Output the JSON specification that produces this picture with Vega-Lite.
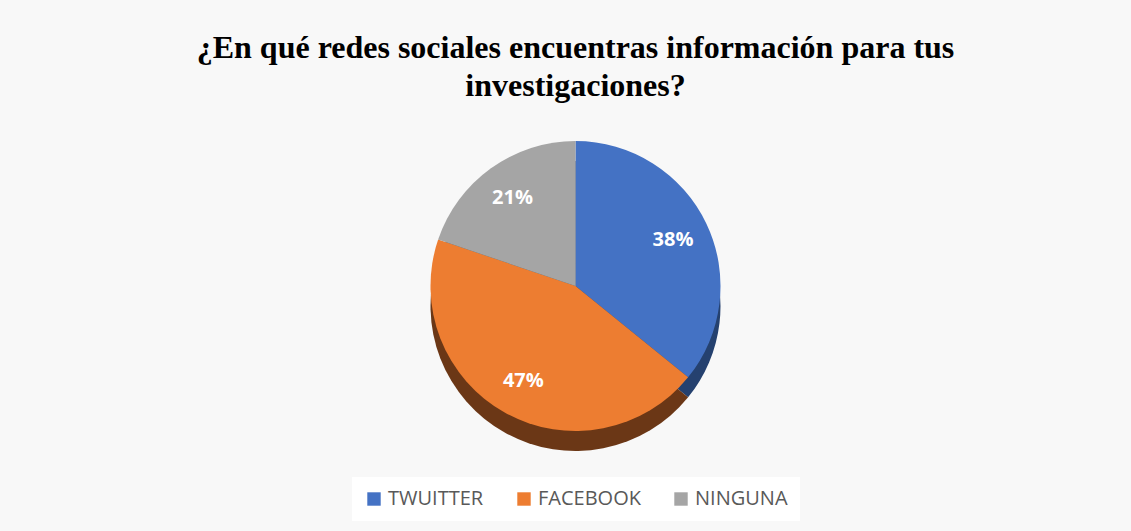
{
  "$schema": "https://vega.github.io/schema/vega-lite/v6.json",
  "width": 1131,
  "height": 531,
  "autosize": {"type": "fit", "contains": "padding"},
  "padding": {"left": 26, "right": 6, "top": 32, "bottom": 10},
  "background": "#f8f8f8",
  "title": {
    "text": ["¿En qué redes sociales encuentras información para tus", "investigaciones?"],
    "font": "Liberation Serif",
    "fontSize": 32,
    "fontWeight": "bold",
    "color": "#000000",
    "anchor": "middle",
    "lineHeight": 38,
    "offset": 10
  },
  "data": {
    "values": [
      {"red": "TWUITTER", "pct": 38, "orden": 1},
      {"red": "FACEBOOK", "pct": 47, "orden": 2},
      {"red": "NINGUNA", "pct": 21, "orden": 3}
    ]
  },
  "transform": [{"calculate": "datum.pct + '%'", "as": "etiqueta"}],
  "encoding": {
    "theta": {"field": "pct", "type": "quantitative", "stack": true},
    "order": {"field": "orden", "type": "quantitative"}
  },
  "layer": [
    {
      "mark": {"type": "arc", "outerRadius": 145, "yOffset": 16},
      "encoding": {
        "color": {
          "field": "red",
          "type": "nominal",
          "scale": {"domain": ["TWUITTER", "FACEBOOK", "NINGUNA"], "range": ["#25416f", "#6b3716", "#5e5e5e"]},
          "legend": null
        }
      }
    },
    {
      "mark": {"type": "arc", "outerRadius": 145, "yOffset": -4},
      "encoding": {
        "color": {
          "field": "red",
          "type": "nominal",
          "sort": ["TWUITTER", "FACEBOOK", "NINGUNA"],
          "scale": {"domain": ["TWUITTER", "FACEBOOK", "NINGUNA"], "range": ["#4472c4", "#ed7d31", "#a5a5a5"]},
          "legend": {
            "title": null,
            "orient": "bottom",
            "direction": "horizontal",
            "symbolType": "square",
            "symbolSize": 180,
            "symbolStrokeWidth": 0,
            "labelFont": "Open Sans",
            "labelFontSize": 20,
            "labelColor": "#595959",
            "columnPadding": 30,
            "fillColor": "#ffffff",
            "padding": 12,
            "offset": 10
          }
        }
      }
    },
    {
      "mark": {"type": "text", "radius": 108, "yOffset": -4, "font": "Open Sans", "fontSize": 20, "fontWeight": "bold", "color": "#ffffff"},
      "encoding": {
        "text": {"field": "etiqueta", "type": "nominal"},
        "detail": {"field": "red"}
      }
    }
  ],
  "resolve": {"scale": {"color": "independent"}},
  "config": {
    "view": {"stroke": null},
    "legend": {"layout": {"bottom": {"anchor": "middle"}}}
  }
}
